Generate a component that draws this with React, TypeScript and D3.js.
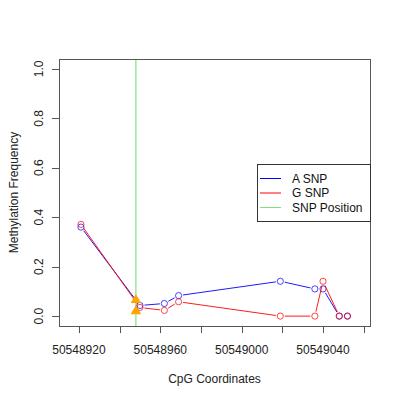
import React from 'react';
import * as d3 from 'd3';

const cpgPositions = [50548921, 50548950, 50548962, 50548969, 50549019, 50549036, 50549040, 50549048, 50549052];
const aSnpValues = [0.36, 0.043, 0.051, 0.083, 0.141, 0.11, 0.11, 0, 0];
const gSnpValues = [0.371, 0.035, 0.023, 0.058, 0, 0, 0.141, 0, 0];
const snpPosition = 50548948;
const snpMarkers = [0.065, 0.02];
const xTicks = [50548920, 50548940, 50548960, 50548980, 50549000, 50549020, 50549040, 50549060];
const xTickLabels = [50548920, 50548960, 50549000, 50549040];
const yTicks = [0, 0.2, 0.4, 0.6, 0.8, 1.0];
const legendItems = [
  { label: 'A SNP', color: '#0000ff' },
  { label: 'G SNP', color: '#ff0000' },
  { label: 'SNP Position', color: '#80e080' },
];

const W = 400;
const H = 400;
const margin = { top: 59, right: 30, bottom: 74, left: 59 };
const font = 'Liberation Sans, Arial, Helvetica, sans-serif';

export default function App() {
  const x = d3.scaleLinear().domain([50548910.2, 50549063.1]).range([margin.left, W - margin.right]);
  const y = d3.scaleLinear().domain([-0.04, 1.04]).range([H - margin.bottom, margin.top]);

  // R type="b": segments with gaps around each point
  const gap = 4.5;
  const segments = (vals: number[]) => {
    const out: { x1: number; y1: number; x2: number; y2: number }[] = [];
    for (let i = 0; i < vals.length - 1; i++) {
      const x1 = x(cpgPositions[i]), y1 = y(vals[i]);
      const x2 = x(cpgPositions[i + 1]), y2 = y(vals[i + 1]);
      const len = Math.hypot(x2 - x1, y2 - y1);
      if (len <= gap * 2) continue;
      const ux = (x2 - x1) / len, uy = (y2 - y1) / len;
      out.push({ x1: x1 + ux * gap, y1: y1 + uy * gap, x2: x2 - ux * gap, y2: y2 - uy * gap });
    }
    return out;
  };

  const series = [
    { vals: aSnpValues, color: '#0000ff' },
    { vals: gSnpValues, color: '#ff0000' },
  ];

  const tri = d3.symbol().type(d3.symbolTriangle).size(48)();
  const x0 = margin.left, x1 = W - margin.right, y0 = margin.top, y1 = H - margin.bottom;
  const legend = { left: 257, top: 164, right: x1, rowY: [178.5, 193, 207.5] };

  return (
    <div style={{ position: 'absolute', left: 0, top: 0 }}>
      <svg width={W} height={H} style={{ display: 'block', background: '#fff' }}>
        <g fontFamily={font} fontSize={12} fill="#000">
          {/* SNP position line */}
          <line x1={x(snpPosition)} x2={x(snpPosition)} y1={y0} y2={y1} stroke="#80e080" strokeWidth={1.2} />

          {series.map((s, si) => (
            <g key={si}>
              {segments(s.vals).map((d, i) => (
                <line key={i} x1={d.x1} y1={d.y1} x2={d.x2} y2={d.y2} stroke={s.color} strokeWidth={0.9} />
              ))}
              {s.vals.map((v, i) => (
                <circle key={i} cx={x(cpgPositions[i])} cy={y(v)} r={3.1} fill="none" stroke={s.color} strokeWidth={0.9} opacity={0.8} />
              ))}
            </g>
          ))}

          {snpMarkers.map((v, i) => (
            <path key={i} d={tri ?? ''} transform={`translate(${x(snpPosition)},${y(v)})`} fill="#ffa500" />
          ))}

          {/* plot box */}
          <rect x={x0 + 0.5} y={y0 + 0.5} width={x1 - x0} height={y1 - y0} fill="none" stroke="#555" strokeWidth={1} />

          {/* y axis */}
          <line x1={x0 + 0.5} x2={x0 + 0.5} y1={y(0)} y2={y(1)} stroke="#555" />
          {yTicks.map((t) => (
            <g key={t}>
              <line x1={x0 - 7} x2={x0} y1={Math.round(y(t)) + 0.5} y2={Math.round(y(t)) + 0.5} stroke="#555" />
              <text transform={`translate(${x0 - 16},${y(t)}) rotate(-90)`} textAnchor="middle" fill="#222">
                {d3.format('.1f')(t)}
              </text>
            </g>
          ))}

          {/* x axis */}
          <line x1={x(xTicks[0])} x2={x(xTicks[xTicks.length - 1])} y1={y1 + 0.5} y2={y1 + 0.5} stroke="#555" />
          {xTicks.map((t) => (
            <line key={t} x1={Math.round(x(t)) + 0.5} x2={Math.round(x(t)) + 0.5} y1={y1} y2={y1 + 7} stroke="#555" />
          ))}
          {xTickLabels.map((t) => (
            <text key={t} x={x(t)} y={354} textAnchor="middle" fill="#222">{t}</text>
          ))}

          <text x={(x0 + x1) / 2} y={383} textAnchor="middle" fill="#222">CpG Coordinates</text>
          <text transform={`translate(18,${(y0 + y1) / 2}) rotate(-90)`} textAnchor="middle" fill="#222">
            Methylation Frequency
          </text>

          {/* legend */}
          <rect x={legend.left + 0.5} y={legend.top + 0.5} width={legend.right - legend.left} height={57} fill="#fff" stroke="#333" />
          {legendItems.map((it, i) => (
            <g key={it.label}>
              <line x1={260} x2={281} y1={legend.rowY[i]} y2={legend.rowY[i]} stroke={it.color} strokeWidth={1} />
              <text x={292} y={legend.rowY[i] + 4.3} fill="#111">{it.label}</text>
            </g>
          ))}
        </g>
      </svg>
    </div>
  );
}
